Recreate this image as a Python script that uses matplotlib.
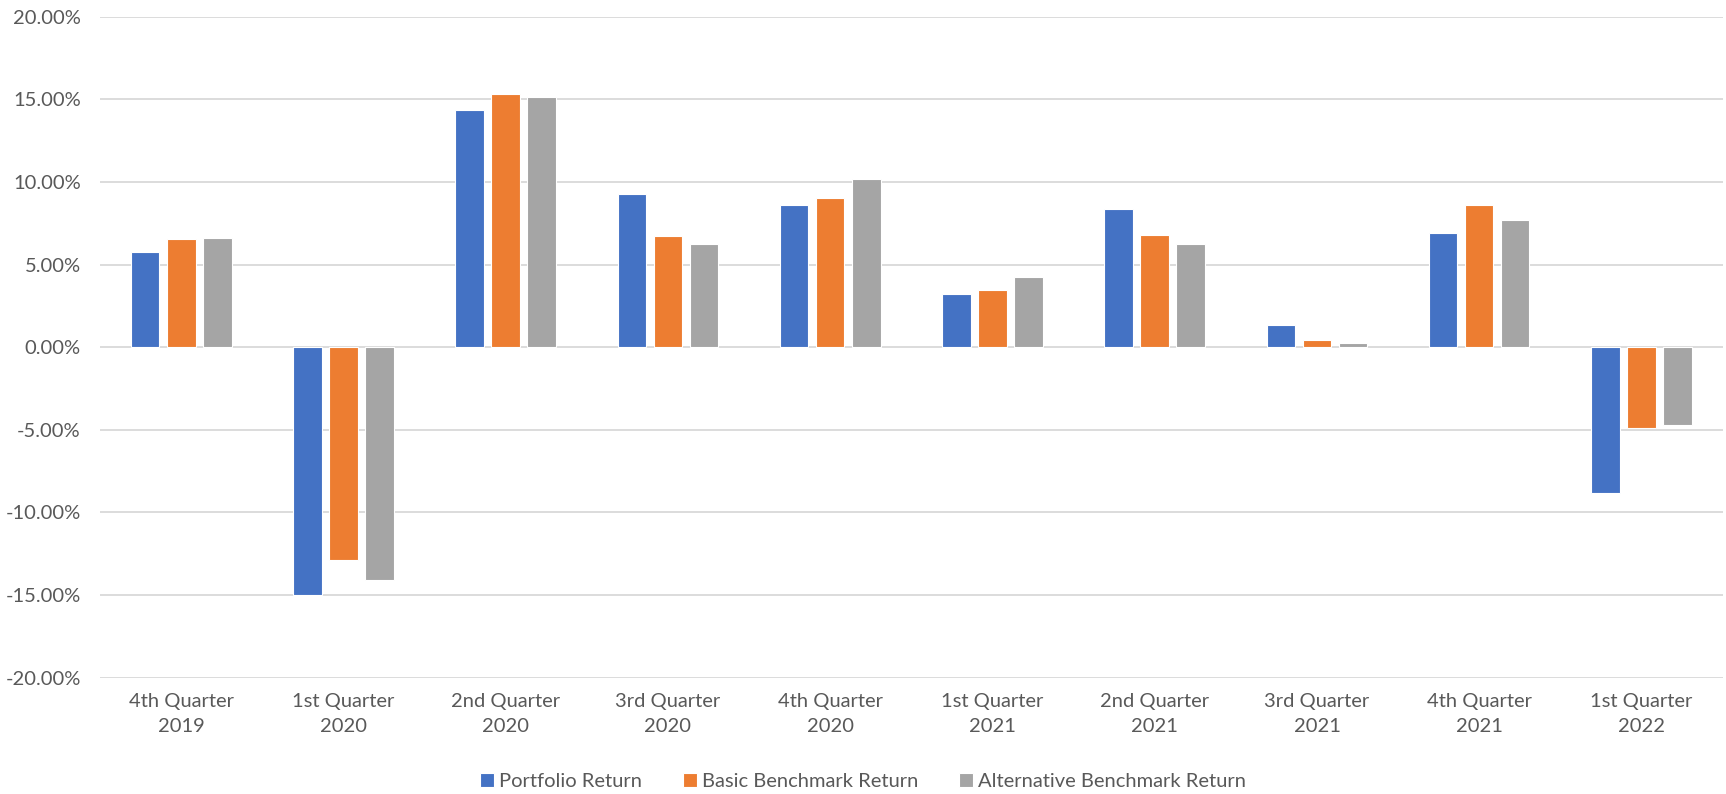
import matplotlib.pyplot as plt
import numpy as np
from matplotlib.ticker import FuncFormatter

# quarterly returns in %
quarters = ['4th Quarter\n2019', '1st Quarter\n2020', '2nd Quarter\n2020', '3rd Quarter\n2020',
            '4th Quarter\n2020', '1st Quarter\n2021', '2nd Quarter\n2021', '3rd Quarter\n2021',
            '4th Quarter\n2021', '1st Quarter\n2022']
portfolio = [5.73, -14.97, 14.35, 9.26, 8.60, 3.19, 8.37, 1.33, 6.88, -8.84]
basic_bench = [6.56, -12.85, 15.30, 6.70, 9.02, 3.49, 6.76, 0.42, 8.60, -4.92]
alt_bench = [6.62, -14.08, 15.11, 6.25, 10.19, 4.24, 6.22, 0.24, 7.69, -4.68]

series_names = ['Portfolio Return', 'Basic Benchmark Return', 'Alternative Benchmark Return']
colors = ['#4472C4', '#ED7D31', '#A5A5A5']
txt = '#595959'

plt.rcParams['font.family'] = ['Lato', 'DejaVu Sans']

fig = plt.figure(figsize=(17.26, 7.94), dpi=100)
ax = fig.add_axes([0.058, 0.1465, 0.94, 0.8325])

x = np.arange(len(quarters))
w = 0.176
pitch = 0.222
for i, (vals, name, c) in enumerate(zip([portfolio, basic_bench, alt_bench], series_names, colors)):
    ax.bar(x + (i - 1) * pitch, vals, width=w, color=c, edgecolor='white', linewidth=0.8,
           label=name, zorder=3)

ax.set_ylim(-20, 20)
ax.set_xlim(-0.5, len(quarters) - 0.5)
ax.set_yticks(np.arange(-20, 21, 5))
ax.yaxis.set_major_formatter(FuncFormatter(lambda v, p: f'{v:.2f}%'))
ax.set_xticks(x)
ax.set_xticklabels(quarters, linespacing=1.6)
ax.grid(axis='y', color='#D9D9D9', linewidth=1.3, zorder=0)
for s in ax.spines.values():
    s.set_visible(False)
ax.tick_params(axis='both', length=0, labelsize=14.5, colors=txt)
ax.tick_params(axis='y', pad=14)
ax.tick_params(axis='x', pad=11)

fig.legend(loc='center', bbox_to_anchor=(0.5, 0.016), ncol=3, frameon=False,
           fontsize=14.5, labelcolor=txt, handlelength=0.7, handleheight=0.7,
           handletextpad=0.25, columnspacing=2.0)

fig.savefig('out.png', dpi=100)
